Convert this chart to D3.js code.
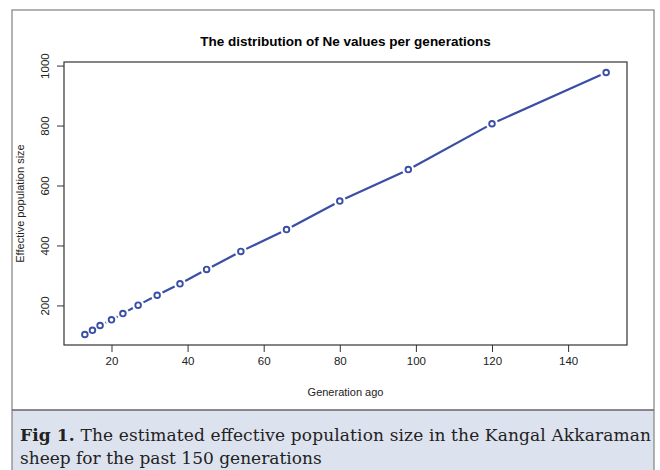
<!DOCTYPE html>
<html>
<head>
<meta charset="utf-8">
<script src="https://cdn.jsdelivr.net/npm/d3@7"></script>
<style>
  body { margin: 0; background: #fff; }
  svg { display: block; }
</style>
</head>
<body>
<script>
// generations ago and Ne estimates
var generations = [13, 15, 17, 20, 23, 27, 32, 38, 45, 54, 66, 80, 98, 120, 150];
var neValues = [103, 117, 133, 152, 173, 201, 234, 272, 320, 380, 453, 548, 653, 806, 977];
var xTicks = [20, 40, 60, 80, 100, 120, 140];
var yTicks = [200, 400, 600, 800, 1000];

var W = 660, H = 470;
var box = {left: 64, right: 627, top: 62, bottom: 345};
var blue = "#3a4ea6";

var svg = d3.select("body").append("svg")
    .attr("width", W)
    .attr("height", H);

// outer frame + caption panel
svg.append("rect")
    .attr("x", 12).attr("y", 410)
    .attr("width", 642).attr("height", 70)
    .attr("fill", "#dde3ee");
svg.append("rect")
    .attr("x", 12).attr("y", 10)
    .attr("width", 642).attr("height", 480)
    .attr("fill", "none")
    .attr("stroke", "#8a8a8a")
    .attr("stroke-width", 1.3);
svg.append("line")
    .attr("x1", 12).attr("x2", 654)
    .attr("y1", 410).attr("y2", 410)
    .attr("stroke", "#666")
    .attr("stroke-width", 1.3);

// R style 4% padding on each side
var xr = d3.extent(generations), yr = d3.extent(neValues);
var xp = (xr[1] - xr[0]) * 0.04, yp = (yr[1] - yr[0]) * 0.04;
var x = d3.scaleLinear().domain([xr[0] - xp, xr[1] + xp]).range([box.left, box.right]);
var y = d3.scaleLinear().domain([yr[0] - yp, yr[1] + yp]).range([box.bottom, box.top]);

var font = "Liberation Sans, Arial, sans-serif";

// axes
var xAxis = svg.append("g")
    .attr("transform", "translate(0," + box.bottom + ")")
    .call(d3.axisBottom(x).tickValues(xTicks).tickFormat(d3.format("d"))
        .tickSize(7).tickPadding(5).tickSizeOuter(0));
var yAxis = svg.append("g")
    .attr("transform", "translate(" + box.left + ",0)")
    .call(d3.axisLeft(y).tickValues(yTicks).tickFormat(d3.format("d"))
        .tickSize(7).tickPadding(5).tickSizeOuter(0));

[xAxis, yAxis].forEach(function(a) {
  a.select(".domain").remove();
  a.selectAll("line").attr("stroke", "#333");
  a.selectAll("text")
      .attr("font-family", font)
      .attr("font-size", 11.5)
      .attr("fill", "#222");
});

// R draws y labels parallel to the axis
yAxis.selectAll(".tick text")
    .attr("x", null).attr("dy", null)
    .attr("text-anchor", "middle")
    .attr("transform", "translate(-15,0) rotate(-90)");

svg.append("rect")
    .attr("x", box.left).attr("y", box.top)
    .attr("width", box.right - box.left)
    .attr("height", box.bottom - box.top)
    .attr("fill", "none")
    .attr("stroke", "#333")
    .attr("stroke-width", 1.2);

// type = "b": segments with a gap round each point
var pts = generations.map(function(g, i) { return [x(g), y(neValues[i])]; });
var gap = 6;
var segs = [];
for (var i = 0; i < pts.length - 1; i++) {
  var a = pts[i], b = pts[i + 1];
  var dx = b[0] - a[0], dy = b[1] - a[1];
  var len = Math.sqrt(dx * dx + dy * dy);
  if (len <= 2 * gap) continue;
  var ux = dx / len, uy = dy / len;
  segs.push([a[0] + ux * gap, a[1] + uy * gap, b[0] - ux * gap, b[1] - uy * gap]);
}

svg.append("g").selectAll("line")
    .data(segs)
    .enter().append("line")
      .attr("x1", function(d) { return d[0]; })
      .attr("y1", function(d) { return d[1]; })
      .attr("x2", function(d) { return d[2]; })
      .attr("y2", function(d) { return d[3]; })
      .attr("stroke", blue)
      .attr("stroke-width", 2.2);

svg.append("g").selectAll("circle")
    .data(generations)
    .enter().append("circle")
      .attr("cx", function(d) { return x(d); })
      .attr("cy", function(d, i) { return y(neValues[i]); })
      .attr("r", 2.8)
      .attr("fill", "none")
      .attr("stroke", blue)
      .attr("stroke-width", 1.9);

// titles
svg.append("text")
    .attr("x", (box.left + box.right) / 2)
    .attr("y", 46)
    .attr("text-anchor", "middle")
    .attr("font-family", font)
    .attr("font-weight", "bold")
    .attr("font-size", 13.5)
    .text("The distribution of Ne values per generations");

svg.append("text")
    .attr("x", (box.left + box.right) / 2)
    .attr("y", 396)
    .attr("text-anchor", "middle")
    .attr("font-family", font)
    .attr("font-size", 11)
    .attr("fill", "#222")
    .text("Generation ago");

svg.append("text")
    .attr("transform", "translate(24," + (box.top + box.bottom) / 2 + ") rotate(-90)")
    .attr("text-anchor", "middle")
    .attr("font-family", font)
    .attr("font-size", 11)
    .attr("fill", "#222")
    .text("Effective population size");

// caption
var serif = "DejaVu Serif, Liberation Serif, serif";
var cap1 = svg.append("text")
    .attr("x", 20).attr("y", 441)
    .attr("font-family", serif)
    .attr("font-size", 17)
    .attr("fill", "#222")
    .attr("textLength", 631)
    .attr("lengthAdjust", "spacing");
cap1.append("tspan").attr("font-weight", "bold").text("Fig 1.");
cap1.append("tspan").text(" The estimated effective population size in the Kangal Akkaraman");

svg.append("text")
    .attr("x", 20).attr("y", 464)
    .attr("font-family", serif)
    .attr("font-size", 17)
    .attr("fill", "#222")
    .text("sheep for the past 150 generations");
</script>
</body>
</html>
